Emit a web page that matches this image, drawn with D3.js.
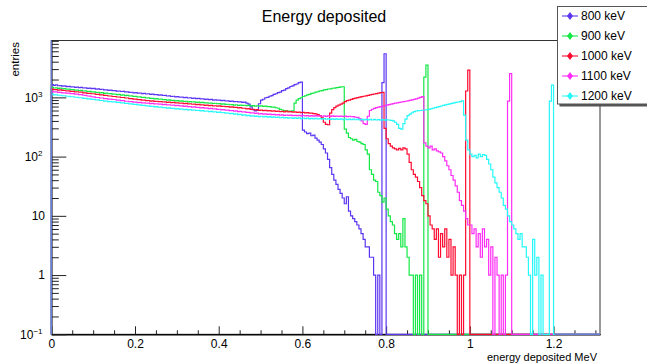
<!DOCTYPE html>
<html>
<head>
<meta charset="utf-8">
<script src="https://cdn.jsdelivr.net/npm/d3@7"></script>
<style>
  html, body { margin: 0; padding: 0; background: #fff; }
  svg { display: block; }
  text { font-family: "Liberation Sans", Arial, Helvetica, sans-serif; fill: #000; }
</style>
</head>
<body>
<svg id="chart" width="647" height="364"></svg>
<script>
// ---------------- data ----------------
const title = "Energy deposited";
const xTitle = "energy deposited MeV";
const yTitle = "entries";
const categories = ["800 keV", "900 keV", "1000 keV", "1100 keV", "1200 keV"];
const binWidth = 0.005;          // MeV per bin
const xMax = 1.311;
const yMin = 0.1, yMax = 9120;
const xMajorTicks = [0, 0.2, 0.4, 0.6, 0.8, 1.0, 1.2];
const xMajorLabels = ["0", "0.2", "0.4", "0.6", "0.8", "1", "1.2"];
const yMajorTicks = [0.1, 1, 10, 100, 1000];
const yMajorLabels = [["10", "\u22121"], ["1", ""], ["10", ""], ["10", "2"], ["10", "3"]];

// bin contents, bin i covers [i*0.005, (i+1)*0.005) MeV; bins past the arrays are empty
const h800 = [
  1650,1590,1620,1570,1580,1550,1560,1520,1530,1500,
  1510,1480,1490,1460,1470,1440,1450,1420,1430,1410,
  1415,1380,1390,1360,1370,1335,1340,1315,1320,1295,
  1300,1270,1280,1255,1260,1235,1240,1215,1220,1195,
  1200,1175,1185,1160,1170,1140,1150,1125,1135,1110,
  1115,1090,1100,1075,1080,1055,1060,1035,1045,1020,
  1030,1005,1015,990,1000,975,985,965,970,950,
  960,940,948,928,935,918,925,900,910,895,
  900,880,888,868,875,858,865,848,852,838,
  842,825,830,800,770,690,620,590,600,780,
  900,930,985,1000,1045,1070,1125,1150,1205,1230,
  1295,1330,1405,1450,1525,1560,1640,1680,1770,1810,
  280,260,245,250,225,230,205,190,175,160,
  135,115,90,65,50,40,34,28,24,20,
  16,21,12,10,9,8,7,6,5,4,
  3,3,2,2,1,0,1,0,1770,5450
];
const h900 = [
  1480,1440,1450,1420,1430,1395,1400,1370,1380,1350,
  1355,1325,1330,1300,1310,1280,1285,1255,1260,1235,
  1240,1215,1220,1195,1200,1170,1180,1150,1160,1135,
  1140,1110,1120,1090,1100,1070,1080,1055,1060,1035,
  1040,1015,1020,995,1000,975,980,958,965,945,
  952,930,938,915,920,900,908,890,892,875,
  882,865,870,852,860,842,850,835,840,822,
  830,815,820,805,810,795,800,788,795,780,
  786,770,778,760,765,750,756,742,750,735,
  742,730,736,724,732,720,726,714,722,710,
  716,704,710,696,700,684,685,668,655,628,
  612,596,592,582,584,590,800,900,955,985,
  1035,1065,1105,1125,1165,1185,1225,1245,1285,1295,
  1335,1355,1385,1395,1425,1435,1465,1475,1505,1510,
  290,250,210,200,190,195,180,175,165,160,
  130,110,60,50,40,38,25,22,17,20,
  13,10,8,7,5,4,5,3,9,3,
  2,1,1,0,1,0,1,0,2200,3500
];
const h1000 = [
  1380,1350,1355,1330,1335,1310,1305,1280,1285,1265,
  1265,1240,1245,1220,1225,1195,1195,1170,1170,1150,
  1150,1125,1125,1105,1100,1080,1075,1055,1055,1035,
  1035,1015,1015,995,995,975,975,955,955,935,
  935,915,915,895,900,880,885,866,870,855,
  860,845,850,835,840,825,830,815,820,805,
  810,795,800,785,790,775,780,765,770,755,
  760,745,750,735,740,725,730,716,722,712,
  716,704,708,696,700,686,690,676,680,666,
  670,655,655,640,645,625,630,615,620,605,
  610,596,602,590,596,585,592,580,586,576,
  582,570,584,566,574,562,568,556,564,552,
  558,546,554,540,544,530,528,512,490,450,
  380,350,345,540,620,670,710,740,770,800,
  850,880,900,925,950,970,990,1010,1030,1045,
  1060,1080,1100,1120,1140,1160,1180,1200,1210,300,
  200,165,150,140,135,130,138,130,140,135,
  110,80,60,50,45,38,30,22,18,16,
  10,7,6,4,6,2,5,3,6,2,
  4,1,3,1,0,1,0,1,1280,2885
];
const h1100 = [
  1260,1235,1235,1215,1215,1195,1195,1175,1175,1155,
  1155,1135,1135,1115,1110,1085,1080,1055,1050,1025,
  1020,995,995,975,975,955,955,935,935,920,
  920,900,900,880,880,860,860,843,845,828,
  830,816,820,806,810,796,800,786,790,776,
  780,766,770,756,760,746,750,736,740,726,
  730,716,720,706,710,696,700,686,690,676,
  680,666,670,656,660,646,650,636,640,626,
  630,616,620,606,610,596,600,586,590,576,
  580,566,570,556,560,546,550,536,540,526,
  532,521,526,516,522,511,516,506,512,501,
  507,497,504,495,500,492,498,490,496,488,
  494,486,493,484,492,483,490,481,489,480,
  488,479,487,478,486,477,485,476,484,475,
  482,473,480,471,472,462,458,438,400,360,
  350,480,600,630,650,670,685,700,715,725,
  740,755,770,785,800,810,820,835,850,860,
  875,890,905,925,945,970,1000,1030,170,150,
  140,150,130,135,125,120,115,100,85,70,
  60,48,40,32,25,18,15,12,9,7,
  7,5,6,3,5,2,6,3,4,1,
  3,0,2,1,0,1,0,1,866,2510
];
const h1200 = [
  1130,1105,1105,1085,1085,1065,1065,1045,1045,1025,
  1025,1005,1005,985,985,965,965,945,945,925,
  925,905,905,885,885,865,866,850,852,835,
  836,820,822,805,806,790,792,775,776,760,
  762,745,747,731,733,717,720,705,708,693,
  696,681,684,670,674,660,664,650,654,640,
  644,631,636,623,628,615,620,607,612,600,
  604,591,596,583,588,575,580,567,572,559,
  564,550,555,540,545,530,535,520,525,510,
  515,500,505,491,497,483,489,477,484,473,
  480,469,476,465,472,461,468,457,464,453,
  460,449,456,445,453,443,451,441,449,439,
  447,437,445,435,443,433,441,431,439,429,
  437,427,435,425,434,424,433,423,432,422,
  431,421,430,420,429,419,428,418,427,417,
  426,416,425,415,424,415,423,414,422,413,
  417,415,410,400,380,350,300,290,360,430,
  490,520,550,575,588,595,600,606,612,618,
  625,640,655,670,685,700,715,730,745,760,
  775,790,805,820,835,850,870,500,190,130,
  110,100,105,95,110,100,108,105,90,75,
  60,45,36,30,25,20,15,13,10,8,
  7,6,5,4,5,3,3,2,1,0,
  4,1,2,0,1,0,0,0,866,1610
];
const series = [h800, h900, h1000, h1100, h1200];
const colors = ["#5b35f2", "#14e845", "#ff0a30", "#ff2cf5", "#25f8f8"];

// ---------------- layout ----------------
const svg = d3.select("#chart");
const W = 647, H = 364;
const pLeft = 51.3, pRight = 600, pTop = 40.5, pBottom = 334.3;

svg.append("rect").attr("width", W).attr("height", H).attr("fill", "#fff");

const x = d3.scaleLinear().domain([0, xMax]).range([pLeft, pRight]);
const y = d3.scaleLog().domain([yMin, yMax]).range([pBottom, pTop]);

// frame
svg.append("rect")
  .attr("x", pLeft).attr("y", pTop)
  .attr("width", pRight - pLeft).attr("height", pBottom - pTop)
  .attr("fill", "none").attr("stroke", "#333").attr("stroke-width", 1);

// title
svg.append("text").attr("x", 324).attr("y", 22)
  .attr("text-anchor", "middle").attr("font-size", 16).text(title);

// x axis
const xMinor = d3.range(1, 27).map(d => d * 0.05).filter(d => Math.abs(d / 0.2 - Math.round(d / 0.2)) > 1e-6);
const gxMinor = svg.append("g").attr("transform", `translate(0,${pBottom})`)
  .call(d3.axisBottom(x).tickValues(xMinor).tickSize(-4).tickFormat("").tickSizeOuter(0));
const gx = svg.append("g").attr("transform", `translate(0,${pBottom})`)
  .call(d3.axisBottom(x).tickValues(xMajorTicks).tickSize(-8).tickPadding(5)
    .tickFormat((d, i) => xMajorLabels[i]).tickSizeOuter(0));
gx.selectAll("text").attr("font-size", 12).attr("font-family", "Liberation Sans, Arial, sans-serif");
[gx, gxMinor].forEach(g => { g.select(".domain").attr("stroke", "#000"); g.selectAll(".tick line").attr("stroke", "#222"); });

// y axis
const yMinor = [];
for (let k = -1; k <= 3; k++) for (let m = 2; m <= 9; m++) { const v = m * Math.pow(10, k); if (v < yMax) yMinor.push(v); }
const gyMinor = svg.append("g").attr("transform", `translate(${pLeft},0)`)
  .call(d3.axisLeft(y).tickValues(yMinor).tickSize(-7.5).tickFormat("").tickSizeOuter(0));
const gy = svg.append("g").attr("transform", `translate(${pLeft},0)`)
  .call(d3.axisLeft(y).tickValues(yMajorTicks).tickSize(-15).tickFormat("").tickSizeOuter(0));
[gy, gyMinor].forEach(g => { g.select(".domain").attr("stroke", "#000"); g.selectAll(".tick line").attr("stroke", "#222"); });

const yl = svg.append("g");
yMajorTicks.forEach((v, i) => {
  const [base, sup] = yMajorLabels[i];
  const t = yl.append("text").attr("x", sup ? 42.5 : 45).attr("y", y(v) + 4.2)
    .attr("text-anchor", "end").attr("font-size", 12);
  t.append("tspan").text(base);
  if (sup) t.append("tspan").attr("dy", -5).attr("font-size", 8).text(sup);
});

// axis titles
svg.append("text").attr("x", 597).attr("y", 360.5).attr("text-anchor", "end")
  .attr("font-size", 11).text(xTitle);
svg.append("text").attr("transform", "translate(18.5,42) rotate(-90)")
  .attr("text-anchor", "end").attr("font-size", 11.5).text(yTitle);

// histograms
svg.append("clipPath").attr("id", "plotclip").append("rect")
  .attr("x", pLeft - 1).attr("y", pTop).attr("width", pRight - pLeft + 2).attr("height", pBottom - pTop + 1);

function histPath(vals) {
  const p = d3.path();
  const yb = y(yMin);
  p.moveTo(x(0), yb);
  vals.forEach((v, i) => {
    const yy = v > 0 ? y(Math.max(v, yMin)) : yb;
    p.lineTo(x(i * binWidth), yy);
    p.lineTo(x((i + 1) * binWidth), yy);
  });
  p.lineTo(x(vals.length * binWidth), yb);
  p.lineTo(x(xMax), yb);
  return p.toString();
}

svg.append("g").attr("clip-path", "url(#plotclip)")
  .selectAll("path").data(series).join("path")
  .attr("d", d => histPath(d))
  .attr("fill", "none")
  .attr("stroke", (d, i) => colors[i])
  .attr("stroke-width", 1.2)
  .attr("stroke-linejoin", "miter");

// left axis line and empty-bin baseline past the last peak (bluish in the reference)
svg.append("line").attr("x1", pLeft).attr("x2", pLeft).attr("y1", pTop).attr("y2", pBottom)
  .attr("stroke", "#6a7bd6").attr("stroke-width", 1.3);
svg.append("line").attr("x1", x(1.2) + 1).attr("x2", pRight).attr("y1", pBottom).attr("y2", pBottom)
  .attr("stroke", "#6a7bd6").attr("stroke-width", 1.3);

// legend
const lg = svg.append("g");
lg.append("rect").attr("x", 559.5).attr("y", 8.5).attr("width", 100).attr("height", 98).attr("fill", "#555");
lg.append("rect").attr("x", 557.5).attr("y", 6.5).attr("width", 100).attr("height", 97.5)
  .attr("fill", "#fff").attr("stroke", "#555").attr("stroke-width", 1);
categories.forEach((c, i) => {
  const cy = 16 + 20 * i;
  lg.append("line").attr("x1", 562).attr("x2", 578).attr("y1", cy).attr("y2", cy)
    .attr("stroke", colors[i]).attr("stroke-width", 1.1);
  lg.append("path").attr("d", `M570,${cy - 4}L573,${cy}L570,${cy + 4}L567,${cy}Z`).attr("fill", colors[i]);
  lg.append("text").attr("x", 581).attr("y", cy + 4.3).attr("font-size", 12).text(c);
});
</script>
</body>
</html>
